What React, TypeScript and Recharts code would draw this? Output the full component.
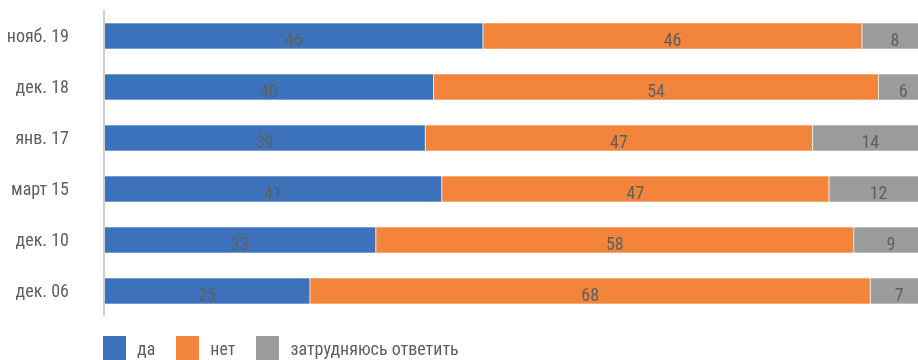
import React from 'react';
import { BarChart, Bar, XAxis, YAxis, LabelList } from 'recharts';

const periods = ['нояб. 19', 'дек. 18', 'янв. 17', 'март 15', 'дек. 10', 'дек. 06'];
const yes = [46, 40, 39, 41, 33, 25];
const no = [46, 54, 47, 47, 58, 68];
const unsure = [8, 6, 14, 12, 9, 7];

const SERIES = [
  { key: 'yes', name: 'да', color: '#3C72BC' },
  { key: 'no', name: 'нет', color: '#F3843C' },
  { key: 'unsure', name: 'затрудняюсь ответить', color: '#9A9C9C' },
];

const FONT = '"Roboto Condensed", "Liberation Sans Narrow", "Arial Narrow", Roboto, sans-serif';
const TEXT = '#5f5f5f';

const data = periods.map((period, i) => ({
  period,
  yes: yes[i],
  no: no[i],
  unsure: unsure[i],
}));

const renderValue = (props: any) => {
  const { x, y, width, height, value } = props;
  return (
    <text
      x={x + width / 2}
      y={y + height / 2 + 3}
      textAnchor="middle"
      dominantBaseline="central"
      fill={TEXT}
      fontSize={18}
      fontFamily={FONT}
    >
      {value}
    </text>
  );
};

// legend drawn as plain html under the plot, bottom edge close to the window edge
function ChartLegend() {
  return (
    <div
      style={{
        position: 'absolute',
        left: 95,
        top: 328,
        display: 'flex',
        alignItems: 'flex-start',
        fontFamily: FONT,
      }}
    >
      {SERIES.map((s) => (
        <div key={s.key} style={{ display: 'flex', alignItems: 'flex-start', marginRight: 21 }}>
          <div style={{ width: 23, height: 24, background: s.color }} />
          <span style={{ marginLeft: 11, marginTop: 3, fontSize: 18, color: TEXT, lineHeight: '20px' }}>
            {s.name}
          </span>
        </div>
      ))}
    </div>
  );
}

export default function App() {
  // fixed so the page gets no scrollbar; the right end of the bars runs off the window like in the original
  return (
    <div style={{ position: 'fixed', left: 8, top: 8, width: 910, height: 352, overflow: 'hidden' }}>
      <BarChart
        width={920}
        height={352}
        data={data}
        layout="vertical"
        margin={{ top: 2, right: 0, left: 0, bottom: 44 }}
        barSize={26}
      >
        <XAxis type="number" domain={[0, 100]} hide />
        <YAxis
          type="category"
          dataKey="period"
          width={96}
          tickLine={false}
          axisLine={{ stroke: '#cfcfcf', strokeWidth: 2 }}
          tick={{ fill: TEXT, fontSize: 18, fontFamily: FONT }}
          tickMargin={29}
        />
        {SERIES.map((s) => (
          <Bar
            key={s.key}
            dataKey={s.key}
            name={s.name}
            stackId="a"
            fill={s.color}
            stroke="#ffffff"
            strokeWidth={0.6}
            isAnimationActive={false}
          >
            <LabelList dataKey={s.key} content={renderValue} />
          </Bar>
        ))}
      </BarChart>
      <ChartLegend />
    </div>
  );
}
